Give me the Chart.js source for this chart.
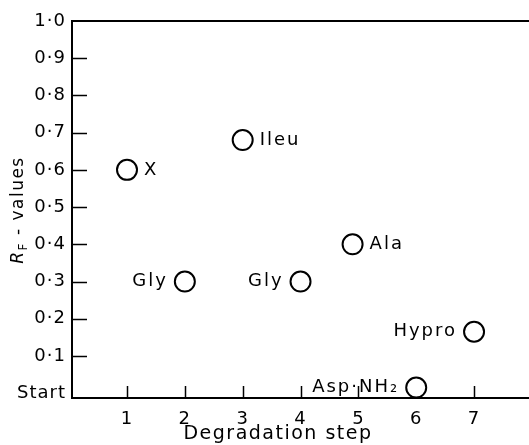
<!DOCTYPE html>
<html><head><meta charset="utf-8">
<script src="https://cdn.jsdelivr.net/npm/chart.js@4/dist/chart.umd.min.js"></script>
<style>html,body{margin:0;padding:0;background:#fff;overflow:hidden}canvas{display:block}</style>
</head><body>
<canvas id="c" width="529" height="445" style="width:529px;height:445px"></canvas>
<script>
// ---- data ----
const degradationSteps = [1, 3, 2, 4, 4.9, 7, 6];
const rfValues = [0.60, 0.68, 0.30, 0.30, 0.40, 0.165, 0.015];
const aminoAcids = ['X', 'Ileu', 'Gly', 'Gly', 'Ala', 'Hypro', 'Asp·NH₂'];
const xTickValues = [1, 2, 3, 4, 5, 6, 7];
const yTickValues = [0, 0.1, 0.2, 0.3, 0.4, 0.5, 0.6, 0.7, 0.8, 0.9, 1.0];
const yTickLabels = ['Start', '0·1', '0·2', '0·3', '0·4', '0·5', '0·6', '0·7', '0·8', '0·9', '1·0'];
const xTitle = 'Degradation step';
const yTitleMain = 'R';
const yTitleSub = 'F';
const yTitleRest = ' - values';

const INK = '#000000';
const FAM = '"DejaVu Sans", "Liberation Sans", sans-serif';

const spacing = {
  id: 'spacing',
  beforeLayout(chart) { chart.ctx.letterSpacing = '1px'; },
  beforeDraw(chart) { chart.ctx.letterSpacing = '1px'; }
};

const decor = {
  id: 'decor',
  beforeDatasetsDraw(chart) {
    const { ctx, chartArea: a, scales: { x, y } } = chart;
    ctx.save();
    ctx.strokeStyle = INK;
    ctx.lineWidth = 2;
    ctx.beginPath();
    ctx.moveTo(a.left - 1, a.top); ctx.lineTo(a.right, a.top);
    ctx.stroke();
    ctx.lineWidth = 1.5;
    ctx.beginPath();
    y.ticks.forEach(t => {
      if (t.value <= 0 || t.value >= 1) return;
      const py = Math.round(y.getPixelForValue(t.value)) + 0.5;
      ctx.moveTo(a.left, py); ctx.lineTo(a.left + 15, py);
    });
    x.ticks.forEach(t => {
      const px = Math.round(x.getPixelForValue(t.value)) + 0.5;
      ctx.moveTo(px, a.bottom); ctx.lineTo(px, a.bottom - 12);
    });
    ctx.stroke();

    // y-axis title with subscript
    ctx.fillStyle = INK;
    ctx.letterSpacing = '1.5px';
    const fMain = 'italic 17px ' + FAM, fSub = '12px ' + FAM, fRest = '17px ' + FAM;
    ctx.font = fMain; const w1 = ctx.measureText(yTitleMain).width;
    ctx.font = fSub; const w2 = ctx.measureText(yTitleSub).width;
    ctx.font = fRest; const w3 = ctx.measureText(yTitleRest).width;
    const W = w1 + w2 + w3;
    ctx.translate(23, 210);
    ctx.rotate(-Math.PI / 2);
    ctx.textBaseline = 'alphabetic'; ctx.textAlign = 'left';
    let cx = -W / 2;
    ctx.font = fMain; ctx.fillText(yTitleMain, cx, 0); cx += w1;
    ctx.font = fSub; ctx.fillText(yTitleSub, cx, 4); cx += w2;
    ctx.font = fRest; ctx.fillText(yTitleRest, cx, 0);
    ctx.restore();

    // x-axis title
    ctx.save();
    ctx.letterSpacing = '1.5px';
    ctx.fillStyle = INK;
    ctx.font = '19px ' + FAM;
    ctx.textAlign = 'center'; ctx.textBaseline = 'middle';
    ctx.fillText(xTitle, 278, 434);
    ctx.restore();
  },
  afterDatasetsDraw(chart, args, opts) {
    const { ctx, scales: { x, y } } = chart;
    ctx.save();
    ctx.letterSpacing = '2px';
    ctx.fillStyle = INK;
    ctx.font = '18px ' + FAM;
    ctx.textBaseline = 'middle';
    aminoAcids.forEach((name, i) => {
      const px = x.getPixelForValue(degradationSteps[i]);
      const py = y.getPixelForValue(rfValues[i]);
      if (opts.leftSide.includes(i)) {
        ctx.textAlign = 'right'; ctx.fillText(name, px - 17, py);
      } else {
        ctx.textAlign = 'left'; ctx.fillText(name, px + 17, py);
      }
    });
    ctx.restore();
  }
};

new Chart(document.getElementById('c'), {
  type: 'scatter',
  data: {
    datasets: [{
      data: degradationSteps.map((s, i) => ({ x: s, y: rfValues[i] })),
      pointRadius: 10,
      pointBorderWidth: 2,
      pointBackgroundColor: '#ffffff',
      pointBorderColor: INK,
      showLine: false,
      clip: false
    }]
  },
  options: {
    responsive: false,
    animation: false,
    events: [],
    devicePixelRatio: 1,
    layout: { autoPadding: false, padding: { top: 21, right: 0, left: 0, bottom: 0 } },
    plugins: {
      legend: { display: false },
      tooltip: { enabled: false },
      decor: { leftSide: [2, 3, 5, 6] }
    },
    scales: {
      x: {
        type: 'linear', min: 0.049, max: 7.95,
        afterBuildTicks(s) { s.ticks = xTickValues.map(v => ({ value: v })); },
        afterFit(s) { s.height = 47; s.paddingLeft = 0; s.paddingRight = 0; },
        ticks: { color: INK, font: { family: FAM, size: 18 }, padding: 11, maxRotation: 0, autoSkip: false,
          callback: v => String(v) },
        grid: { display: true, drawOnChartArea: false, drawTicks: false },
        border: { display: true, color: INK, width: 2 }
      },
      y: {
        type: 'linear', min: -0.013, max: 1.0,
        afterBuildTicks(s) { s.ticks = yTickValues.map(v => ({ value: v })); },
        afterFit(s) { s.width = 72; s.paddingTop = 0; s.paddingBottom = 0; },
        ticks: { color: INK, font: { family: FAM, size: 18 }, padding: 6, autoSkip: false,
          callback: (v) => { const i = yTickValues.findIndex(t => Math.abs(t - v) < 1e-6); return i >= 0 ? yTickLabels[i] : ''; } },
        grid: { display: true, drawOnChartArea: false, drawTicks: false },
        border: { display: true, color: INK, width: 2 }
      }
    }
  },
  plugins: [spacing, decor]
});
</script>
</body></html>
